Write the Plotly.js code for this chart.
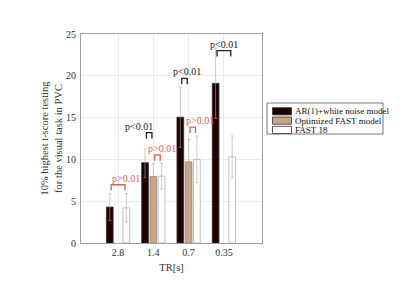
<!DOCTYPE html>
<html>
<head>
<meta charset="utf-8">
<script src="https://cdn.plot.ly/plotly-3.0.1.min.js"></script>
<style>html,body{margin:0;padding:0;background:#fff;}#chart{width:400px;height:294px;}</style>
</head>
<body>
<div id="chart"></div>
<script>
// ---- data ----
const categories = ['2.8', '1.4', '0.7', '0.35'];
const seriesNames = ['AR(1)+white noise model', 'Optimized FAST model', 'FAST 18'];
const arValues = [4.3, 9.6, 15.05, 19.1];
const arErrors = [1.6, 1.75, 3.6, 4.2];
const optValues = [null, 7.95, 9.7, null];
const optErrors = [null, 1.5, 2.7, null];
const fastValues = [4.2, 8.0, 10.0, 10.3];
const fastErrors = [1.7, 1.55, 2.8, 2.5];
const yTickVals = [0, 5, 10, 15, 20, 25];
// significance comparisons: group index, trace a, trace b, bracket level (y), label
const cmpGroup = [0, 1, 1, 2, 2, 3];
const cmpFrom = [0, 0, 1, 0, 1, 0];
const cmpTo = [2, 1, 2, 1, 2, 2];
const cmpLevel = [6.97, 13.2, 10.55, 19.7, 13.85, 23.0];
const cmpLabel = ['p>0.01', 'p<0.01', 'p>0.01', 'p<0.01', 'p>0.01', 'p<0.01'];

// ---- styling ----
const FONT = 'Liberation Serif, Times New Roman, serif';
const fills = ['#1c0202', '#c9a488', '#ffffff'];
const edges = ['#3a2a2a', '#9a8070', '#b0b0b0'];
const RED = '#e05a5a';
const DARK = '#222222';
const labelShiftPx = [8, -10, 5, 3, 7, 0];
const W = 400, H = 294;
const M = {l: 81, r: 138, t: 34, b: 51};
const XR = [-1.05, 4.08];
const BARGAP = 0.295, GROUPGAP = 0.19;
const slot = (1 - BARGAP) / 3;

const xIdx = categories.map((c, i) => i);
const vals = [arValues, optValues, fastValues];
const errs = [arErrors, optErrors, fastErrors];

const traces = vals.map((v, k) => ({
  type: 'bar',
  x: xIdx,
  y: v,
  name: seriesNames[k],
  showlegend: false,
  marker: {color: fills[k], line: {color: edges[k], width: 0.8}},
  error_y: {type: 'data', array: errs[k], visible: true, color: '#a8a8a8', thickness: 0.6, width: 1.5}
}));

// bracket shapes & labels
const shapes = [];
const annotations = [];
const inset = 0.04, leg = 0.7;
cmpGroup.forEach((g, i) => {
  const xa = g + (cmpFrom[i] - 1) * slot + inset;
  const xb = g + (cmpTo[i] - 1) * slot - inset;
  const yl = cmpLevel[i];
  const col = cmpLabel[i].indexOf('>') >= 0 ? RED : DARK;
  shapes.push({
    type: 'path', xref: 'x', yref: 'y',
    path: `M ${xa} ${yl - leg} L ${xa} ${yl} L ${xb} ${yl} L ${xb} ${yl - leg}`,
    line: {color: col, width: 1.3}
  });
  annotations.push({
    xref: 'x', yref: 'y', x: (xa + xb) / 2, y: yl, yanchor: 'bottom', xanchor: 'center',
    text: cmpLabel[i], showarrow: false, yshift: -1, xshift: labelShiftPx[i],
    font: {family: FONT, size: 10, color: col}
  });
});

// custom legend (paper coordinates converted from pixels)
const PW = W - M.l - M.r, PH = H - M.t - M.b;
const px = x => (x - M.l) / PW;
const py = y => (H - M.b - y) / PH;
shapes.push({type: 'rect', xref: 'paper', yref: 'paper', x0: px(267), x1: px(383), y0: py(134), y1: py(103),
  line: {color: '#555', width: 0.8}, fillcolor: '#fff'});
seriesNames.forEach((n, k) => {
  const cy = 111.3 + k * 9.3;
  shapes.push({type: 'rect', xref: 'paper', yref: 'paper', x0: px(272.5), x1: px(291.5), y0: py(cy + 3.6), y1: py(cy - 3.6),
    line: {color: '#333', width: 0.8}, fillcolor: fills[k]});
  annotations.push({xref: 'paper', yref: 'paper', x: px(292.5), y: py(cy), xanchor: 'left', yanchor: 'middle',
    text: n, showarrow: false, font: {family: FONT, size: 9, color: '#111'}});
});

const layout = {
  width: W, height: H,
  margin: M,
  paper_bgcolor: '#fff', plot_bgcolor: '#fff',
  barmode: 'group', bargap: BARGAP, bargroupgap: GROUPGAP,
  font: {family: FONT, size: 10, color: '#333'},
  xaxis: {
    range: XR, tickvals: xIdx, ticktext: categories,
    showgrid: true, gridcolor: '#ececec', gridwidth: 1,
    showline: true, linecolor: '#a0a0a0', linewidth: 1, mirror: true,
    ticks: '', zeroline: false,
    tickfont: {family: FONT, size: 10, color: '#333'},
    title: {text: 'TR[s]', font: {family: FONT, size: 10.5, color: '#333'}, standoff: 6}
  },
  yaxis: {
    range: [0, 25], tickvals: yTickVals, ticktext: yTickVals.map(String),
    showgrid: true, gridcolor: '#ececec', gridwidth: 1,
    showline: true, linecolor: '#a0a0a0', linewidth: 1, mirror: true,
    ticks: '', zeroline: false, ticklabelstandoff: 2,
    tickfont: {family: FONT, size: 10, color: '#333'},
    title: {text: '10% highest t-score testing<br>for the visual task in PVC', font: {family: FONT, size: 10.5, color: '#333'}, standoff: 1}
  },
  shapes: shapes,
  annotations: annotations
};

Plotly.newPlot('chart', traces, layout, {displayModeBar: false, staticPlot: true});
</script>
</body>
</html>
